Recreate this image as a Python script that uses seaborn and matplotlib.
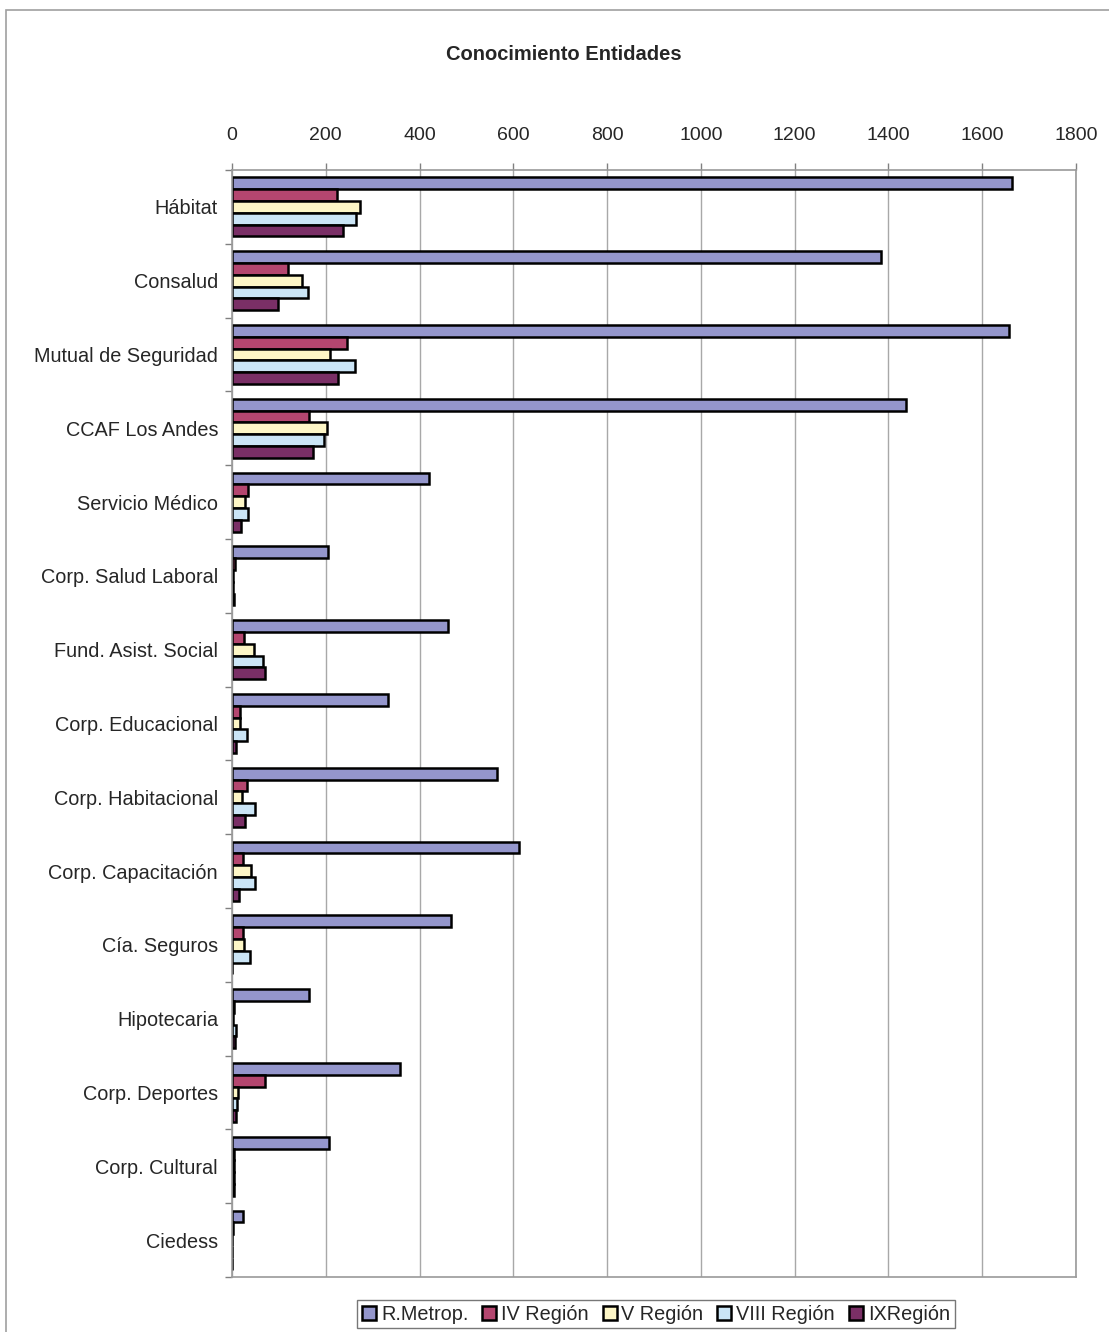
"""
Conocimiento Entidades - barras horizontales agrupadas por región
"""
import pandas as pd
import numpy as np
import matplotlib
matplotlib.use('Agg')
import matplotlib.pyplot as plt
from matplotlib.patches import Patch, Rectangle
from matplotlib.ticker import FixedLocator
import seaborn as sns

# datos
categorias = ['Hábitat', 'Consalud', 'Mutual de Seguridad', 'CCAF Los Andes',
              'Servicio Médico', 'Corp. Salud Laboral', 'Fund. Asist. Social',
              'Corp. Educacional', 'Corp. Habitacional', 'Corp. Capacitación',
              'Cía. Seguros', 'Hipotecaria', 'Corp. Deportes', 'Corp. Cultural',
              'Ciedess']
series = ['R.Metrop.', 'IV Región', 'V Región', 'VIII Región', 'IXRegión']
r_metrop = [1663, 1384, 1657, 1437, 421, 204, 461, 333, 566, 612, 466, 164, 358, 206, 24]
iv_region = [223, 119, 246, 165, 34, 6, 26, 18, 31, 24, 23, 5, 70, 5, 3]
v_region = [273, 150, 209, 202, 28, 3, 47, 18, 22, 40, 25, 3, 12, 4, 0]
viii_region = [264, 162, 262, 197, 34, 3, 67, 33, 50, 48, 38, 8, 10, 4, 0]
ix_region = [236, 99, 225, 173, 19, 4, 70, 8, 28, 14, 1, 6, 8, 4, 0]
colores = ['#9496cc', '#b4466f', '#fdf6c6', '#cbe5f6', '#7a2f66']
x_ticks = [0, 200, 400, 600, 800, 1000, 1200, 1400, 1600, 1800]

valores = [r_metrop, iv_region, v_region, viii_region, ix_region]
df = pd.DataFrame({
    'Entidad': categorias * len(series),
    'Serie': [s for s in series for _ in categorias],
    'Valor': [v for vals in valores for v in vals],
})

sns.set_style('white')
plt.rcParams['font.family'] = ['Liberation Sans', 'DejaVu Sans']

fig = plt.figure(figsize=(11.09, 13.32), dpi=100)
ax = fig.add_axes([0.2092, 0.0413, 0.7611, 0.8311])

sns.barplot(data=df, y='Entidad', x='Valor', hue='Serie', order=categorias,
            hue_order=series, palette=colores, saturation=1, orient='h', width=0.8,
            edgecolor='black', linewidth=1.8, errorbar=None, legend=False, ax=ax)

ax.set_xlim(0, 1800)
ax.set_ylim(len(categorias) - 0.5, -0.5)
ax.xaxis.tick_top()
ax.set_xticks(x_ticks)
ax.set_xticklabels([str(t) for t in x_ticks], fontsize=14)
ax.tick_params(axis='x', which='major', length=5, width=1, color='#808080',
               pad=14, top=True, bottom=False)
ax.grid(axis='x', color='#a8a8a8', linewidth=1)
ax.set_axisbelow(True)

# etiquetas centradas, marcas en los límites de categoría
ax.set_yticks(np.arange(len(categorias)))
ax.set_yticklabels(categorias, fontsize=14.3)
ax.tick_params(axis='y', which='major', length=0, pad=10)
ax.yaxis.set_minor_locator(FixedLocator(np.arange(-0.5, len(categorias), 1)))
ax.tick_params(axis='y', which='minor', length=5, width=1, color='#808080', left=True)
ax.set_xlabel('')
ax.set_ylabel('')

for lado in ['top', 'bottom', 'left', 'right']:
    ax.spines[lado].set_visible(True)
    ax.spines[lado].set_color('#9a9a9a')
    ax.spines[lado].set_linewidth(1.2)

fig.text(0.508, 0.959, 'Conocimiento Entidades', ha='center', va='center',
         fontsize=14.5, fontweight='bold')

# leyenda
handles = [Patch(facecolor=c, edgecolor='black', linewidth=1.8) for c in colores]
leg = fig.legend(handles, series, loc='center', bbox_to_anchor=(0.5915, 0.0135),
                 ncol=5, fontsize=14.3, frameon=True, fancybox=False,
                 edgecolor='#555555', handlelength=0.7, handleheight=0.7,
                 handletextpad=0.25, columnspacing=0.7, borderpad=0.25)
leg.get_frame().set_linewidth(1.0)

# marco exterior del gráfico
fig.patches.append(Rectangle((0.005, -0.01), 1.0, 1.0025, transform=fig.transFigure,
                             fill=False, edgecolor='#a0a0a0', linewidth=1.2))

plt.savefig('out.png', dpi=100)
plt.close()
